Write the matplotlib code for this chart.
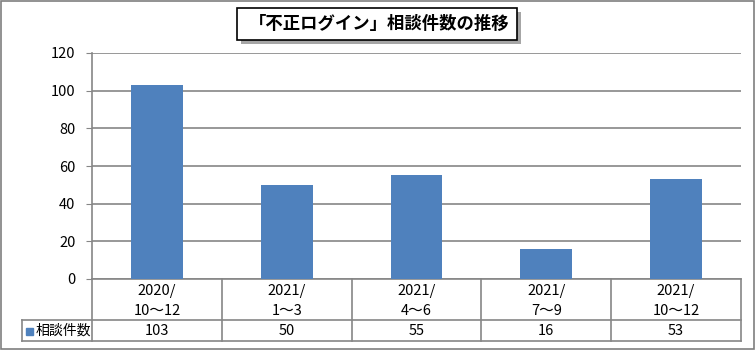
import matplotlib
matplotlib.use("Agg")
import matplotlib.pyplot as plt
from matplotlib.lines import Line2D
from matplotlib.patches import Rectangle
from matplotlib.transforms import blended_transform_factory

plt.rcParams['font.family'] = ['Noto Sans CJK JP', 'DejaVu Sans']

title = "「不正ログイン」相談件数の推移"
series_name = "相談件数"
categories = ["2020/\n10～12", "2021/\n1～3", "2021/\n4～6", "2021/\n7～9", "2021/\n10～12"]
counts = [103, 50, 55, 16, 53]
yticks = [0, 20, 40, 60, 80, 100, 120]

W, H = 756, 351
fig = plt.figure(figsize=(W / 100, H / 100), dpi=100)

def fx(px):
    return px / W

def fy(py):
    return 1 - py / H

grid_c = "#868686"
bar_c = "#4F81BD"

# outer border
fig.add_artist(Rectangle((fx(1), fy(349)), fx(753), 348 / H, transform=fig.transFigure,
                         fill=False, edgecolor="#7f7f7f", lw=1.2))

ax = fig.add_axes([fx(92), fy(279), fx(741) - fx(92), fy(53) - fy(279)])
x = list(range(len(counts)))
ax.bar(x, counts, width=0.4, color=bar_c, zorder=3)
ax.set_xlim(-0.5, len(counts) - 0.5)
ax.set_ylim(0, 120)
ax.set_yticks(yticks)
ax.set_yticklabels([str(v) for v in yticks], fontsize=10.5)
ax.yaxis.grid(True, color=grid_c, lw=1.2, zorder=0)
ax.set_xticks([])
for s in ["top", "right"]:
    ax.spines[s].set_visible(False)
ax.spines["left"].set_color(grid_c)
ax.spines["bottom"].set_color(grid_c)
ax.spines["left"].set_linewidth(1.2)
ax.spines["bottom"].set_linewidth(1.2)
ax.tick_params(axis="y", length=4, color=grid_c, pad=8)

# data table below the axis
tr = blended_transform_factory(ax.transData, fig.transFigure)
for b in [i - 0.5 for i in range(len(counts) + 1)]:
    fig.add_artist(Line2D([b, b], [fy(279), fy(341)], transform=tr, color=grid_c, lw=1.2))
for yy in [320, 341]:
    fig.add_artist(Line2D([fx(22), fx(741)], [fy(yy), fy(yy)], transform=fig.transFigure,
                          color=grid_c, lw=1.2))
fig.add_artist(Line2D([fx(22), fx(22)], [fy(320), fy(341)], transform=fig.transFigure,
                      color=grid_c, lw=1.2))
for i, (c, v) in enumerate(zip(categories, counts)):
    fig.text(i, fy(301), c, transform=tr, ha="center", va="center", fontsize=10.5,
             linespacing=1.55)
    fig.text(i, fy(331), str(v), transform=tr, ha="center", va="center", fontsize=10.5)
fig.add_artist(Rectangle((fx(26), fy(335)), fx(7), 7 / H, transform=fig.transFigure,
                         color=bar_c))
fig.text(fx(36), fy(331), series_name, ha="left", va="center", fontsize=10)

# title box with shadow
fig.add_artist(Rectangle((fx(241), fy(44)), fx(280), 32 / H, transform=fig.transFigure,
                         color="#a6a6a6", lw=0))
fig.add_artist(Rectangle((fx(237), fy(40)), fx(280), 32 / H, transform=fig.transFigure,
                         facecolor="white", edgecolor="black", lw=1.2))
fig.text(fx(379), fy(24), title, ha="center", va="center", fontsize=12.5, fontweight="bold")

fig.savefig("out.png", dpi=100)
